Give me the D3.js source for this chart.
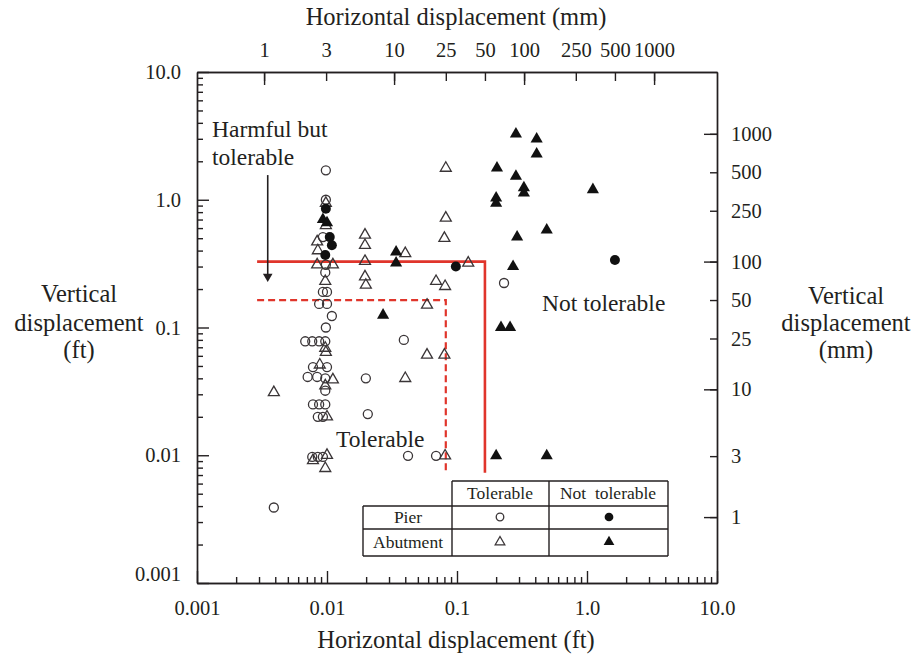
<!DOCTYPE html>
<html>
<head>
    <title>Bridge displacement tolerance</title>
    <style>
        body { margin: 0; background: #fff; }
        svg text { font-family: "Liberation Serif", "Times New Roman", serif; fill: #231f20; }
    </style>
    <script src="https://cdn.jsdelivr.net/npm/d3@7"></script>
</head>
<body>
    <div id="chart"></div>
    <script>
        // values, in feet [horizontal, vertical]
        const pierTolerable = [
            [0.0098, 1.7], [0.0098, 1.0], [0.0093, 0.51], [0.0098, 0.31], [0.0097, 0.27],
            [0.0093, 0.19], [0.0100, 0.19], [0.0087, 0.153], [0.0100, 0.153], [0.0109, 0.123],
            [0.0098, 0.10], [0.0068, 0.078], [0.0077, 0.078], [0.0087, 0.078], [0.0097, 0.078],
            [0.0078, 0.049], [0.0100, 0.049], [0.0071, 0.041], [0.0084, 0.041], [0.0097, 0.040],
            [0.0097, 0.032], [0.0078, 0.025], [0.0087, 0.025], [0.0097, 0.025],
            [0.0085, 0.020], [0.0093, 0.020], [0.0077, 0.0097], [0.0085, 0.0097], [0.0093, 0.0097],
            [0.0199, 0.040], [0.0206, 0.021], [0.042, 0.0099], [0.069, 0.0099], [0.039, 0.08],
            [0.23, 0.223], [0.0039, 0.0039]
        ];
        const abutmentTolerable = [
            [0.0098, 0.94], [0.0098, 0.63], [0.0084, 0.47], [0.0085, 0.40], [0.0084, 0.31],
            [0.0111, 0.31], [0.0097, 0.23], [0.0097, 0.069], [0.0098, 0.064], [0.0088, 0.051],
            [0.0111, 0.039], [0.0097, 0.035], [0.0100, 0.020], [0.0078, 0.0091], [0.0100, 0.0100],
            [0.0097, 0.0079], [0.0039, 0.031], [0.082, 1.77], [0.082, 0.72], [0.080, 0.50],
            [0.0196, 0.53], [0.0196, 0.44], [0.040, 0.38], [0.0196, 0.33], [0.0196, 0.25],
            [0.0199, 0.215], [0.122, 0.32], [0.069, 0.23], [0.081, 0.21], [0.0588, 0.15],
            [0.0588, 0.061], [0.080, 0.061], [0.040, 0.040], [0.081, 0.0099]
        ];
        const pierNotTolerable = [
            [0.0098, 0.85], [0.0105, 0.51], [0.0109, 0.44], [0.0097, 0.37], [0.098, 0.30], [1.64, 0.337]
        ];
        const abutmentNotTolerable = [
            [0.0093, 0.70], [0.0100, 0.66], [0.034, 0.39], [0.034, 0.32], [0.027, 0.125],
            [0.284, 3.27], [0.41, 2.99], [0.41, 2.28], [0.203, 1.77], [0.284, 1.53],
            [0.327, 1.24], [0.327, 1.13], [1.11, 1.2], [0.2, 1.03], [0.2, 0.94],
            [0.29, 0.51], [0.49, 0.58], [0.27, 0.30], [0.218, 0.10], [0.256, 0.10],
            [0.2, 0.0099], [0.49, 0.0099]
        ];

        // limit lines (ft): 50 mm / 100 mm solid, 25 mm / 50 mm dashed
        const solidLimit = [[0.0029, 0.328], [0.164, 0.328], [0.164, 0.0073]];
        const dashedLimit = [[0.0029, 0.164], [0.082, 0.164], [0.082, 0.0073]];
        const arrowPts = [[0.0035, 1.56], [0.0035, 0.253]];

        const ftTicks = [0.001, 0.01, 0.1, 1, 10];
        const ftLabels = ["0.001", "0.01", "0.1", "1.0", "10.0"];
        const mmTicks = [1, 3, 10, 25, 50, 100, 250, 500, 1000];
        const mmMajor = [1, 10, 100, 1000];
        const FT_PER_MM = 1 / 304.8;

        const margin = { top: 72, right: 197, bottom: 75, left: 197 },
            width = 914 - margin.left - margin.right,
            height = 658 - margin.top - margin.bottom;

        const svg = d3.select("#chart").append("svg")
            .attr("width", 914).attr("height", 658);
        const g = svg.append("g")
            .attr("transform", `translate(${margin.left}, ${margin.top})`);

        const x = d3.scaleLog().domain([0.001, 10]).range([0, width]);
        const y = d3.scaleLog().domain([0.001, 10]).range([height, 0]);

        const minors = [];
        [0.001, 0.01, 0.1, 1].forEach(d => { for (let k = 2; k < 10; k++) minors.push(d * k); });
        const fmtFt = d => ftLabels[ftTicks.indexOf(d)];

        function styleAxis(sel) {
            sel.selectAll("path,line").attr("stroke", "#231f20").attr("stroke-width", 1.4);
            sel.selectAll("text").style("font-size", "20.5px").attr("fill", "#231f20")
                .style("font-family", "'Liberation Serif', serif");
        }

        // left (ft)
        g.append("g").call(d3.axisLeft(y).tickValues(minors).tickSizeInner(-6).tickSizeOuter(0).tickFormat(""))
            .call(styleAxis);
        const left = g.append("g").call(d3.axisLeft(y).tickValues(ftTicks).tickSizeInner(-12)
            .tickSizeOuter(0).tickPadding(16).tickFormat(fmtFt)).call(styleAxis);
        left.selectAll("text").filter(d => d === 0.001).attr("dy", "-0.1em");

        // bottom (ft)
        g.append("g").attr("transform", `translate(0, ${height})`)
            .call(d3.axisBottom(x).tickValues(minors).tickSizeInner(-6).tickSizeOuter(0).tickFormat(""))
            .call(styleAxis);
        g.append("g").attr("transform", `translate(0, ${height})`)
            .call(d3.axisBottom(x).tickValues(ftTicks).tickSizeInner(-12).tickSizeOuter(0)
                .tickPadding(17).tickFormat(fmtFt))
            .call(styleAxis);

        // top (mm)
        g.append("g")
            .call(d3.axisTop(x).tickValues(mmTicks.map(m => m * FT_PER_MM))
                .tickSizeInner(-9).tickSizeOuter(0).tickPadding(15)
                .tickFormat((d, i) => mmTicks[i]))
            .call(styleAxis);
        g.append("g")
            .call(d3.axisTop(x).tickValues(mmMajor.map(m => m * FT_PER_MM))
                .tickSizeInner(-13).tickSizeOuter(0).tickFormat(""))
            .call(styleAxis);

        // right (mm)
        g.append("g").attr("transform", `translate(${width}, 0)`)
            .call(d3.axisRight(y).tickValues(mmTicks.map(m => m * FT_PER_MM))
                .tickSizeInner(-7).tickSizeOuter(0).tickPadding(14)
                .tickFormat((d, i) => mmTicks[i]))
            .call(styleAxis);
        g.append("g").attr("transform", `translate(${width}, 0)`)
            .call(d3.axisRight(y).tickValues(mmMajor.map(m => m * FT_PER_MM))
                .tickSizeInner(-13).tickSizeOuter(0).tickFormat(""))
            .call(styleAxis);

        // limit lines
        const line = d3.line().x(d => x(d[0])).y(d => y(d[1]));
        g.append("path").datum(solidLimit).attr("d", line)
            .attr("fill", "none").attr("stroke", "#e0352b").attr("stroke-width", 2.6);
        g.append("path").datum(dashedLimit).attr("d", line)
            .attr("fill", "none").attr("stroke", "#e0352b").attr("stroke-width", 2.2)
            .attr("stroke-dasharray", "7,4");

        // arrow
        g.append("line")
            .attr("x1", x(arrowPts[0][0])).attr("y1", y(arrowPts[0][1]))
            .attr("x2", x(arrowPts[1][0])).attr("y2", y(arrowPts[1][1]))
            .attr("stroke", "#231f20").attr("stroke-width", 1.6);
        g.append("path")
            .attr("d", d3.symbol(d3.symbolTriangle, 40)())
            .attr("transform", `translate(${x(arrowPts[1][0])}, ${y(arrowPts[1][1]) + 0.5}) rotate(180)`)
            .attr("fill", "#231f20");

        // markers
        const openStyle = s => s.attr("fill", "none").attr("stroke", "#3a3537").attr("stroke-width", 1.3);
        const solidStyle = s => s.attr("fill", "#111").attr("stroke", "none");
        function drawPoints(data, type, size, styler) {
            g.append("g").selectAll("path").data(data).enter().append("path")
                .attr("d", d3.symbol(type, size)())
                .attr("transform", d => `translate(${x(d[0])}, ${y(d[1])})`)
                .call(styler);
        }
        drawPoints(pierTolerable, d3.symbolCircle, 64, openStyle);
        drawPoints(abutmentTolerable, d3.symbolTriangle, 52, openStyle);
        drawPoints(pierNotTolerable, d3.symbolCircle, 78, solidStyle);
        drawPoints(abutmentNotTolerable, d3.symbolTriangle, 64, solidStyle);

        // annotations
        const ann = svg.append("g").style("font-size", "23.5px");
        ann.append("text").attr("x", 212).attr("y", 137).text("Harmful but");
        ann.append("text").attr("x", 212).attr("y", 165).text("tolerable");
        ann.append("text").attr("x", 336).attr("y", 447).text("Tolerable");
        ann.append("text").attr("x", 542).attr("y", 311).text("Not tolerable");

        // axis titles
        const titles = svg.append("g").style("font-size", "24.5px").attr("text-anchor", "middle");
        titles.append("text").attr("x", 456).attr("y", 25).text("Horizontal displacement (mm)");
        titles.append("text").attr("x", 456).attr("y", 648).text("Horizontal displacement (ft)");
        [["Vertical", 302], ["displacement", 331], ["(ft)", 358]].forEach(([t, yy]) =>
            titles.append("text").attr("x", 79).attr("y", yy).text(t));
        [["Vertical", 304], ["displacement", 331], ["(mm)", 358]].forEach(([t, yy]) =>
            titles.append("text").attr("x", 846).attr("y", yy).text(t));

        // legend table
        const lg = svg.append("g");
        const lc = "#231f20";
        lg.append("rect").attr("x", 452).attr("y", 481).attr("width", 216).attr("height", 75).attr("fill", "#fff");
        lg.append("rect").attr("x", 363).attr("y", 506).attr("width", 89).attr("height", 50).attr("fill", "#fff");
        [[452, 481, 668, 481], [363, 506, 668, 506], [363, 529, 668, 529], [363, 556, 668, 556],
         [363, 506, 363, 556], [452, 481, 452, 556], [549, 481, 549, 556], [668, 481, 668, 556]]
            .forEach(([x1, y1, x2, y2]) => lg.append("line").attr("x1", x1).attr("y1", y1)
                .attr("x2", x2).attr("y2", y2).attr("stroke", lc).attr("stroke-width", 1.4));
        const lt = lg.append("g").style("font-size", "17.5px").attr("text-anchor", "middle");
        lt.append("text").attr("x", 500).attr("y", 499).text("Tolerable");
        lt.append("text").attr("x", 608).attr("y", 499).attr("xml:space", "preserve").text("Not  tolerable");
        lt.append("text").attr("x", 408).attr("y", 523).text("Pier");
        lt.append("text").attr("x", 408).attr("y", 548).text("Abutment");
        const legMark = (cx, cy, type, size, styler) => lg.append("path")
            .attr("d", d3.symbol(type, size)()).attr("transform", `translate(${cx}, ${cy})`).call(styler);
        legMark(500, 517, d3.symbolCircle, 45, openStyle);
        legMark(609, 517, d3.symbolCircle, 60, solidStyle);
        legMark(500, 542, d3.symbolTriangle, 40, openStyle);
        legMark(609, 542, d3.symbolTriangle, 50, solidStyle);
    </script>
</body>
</html>
